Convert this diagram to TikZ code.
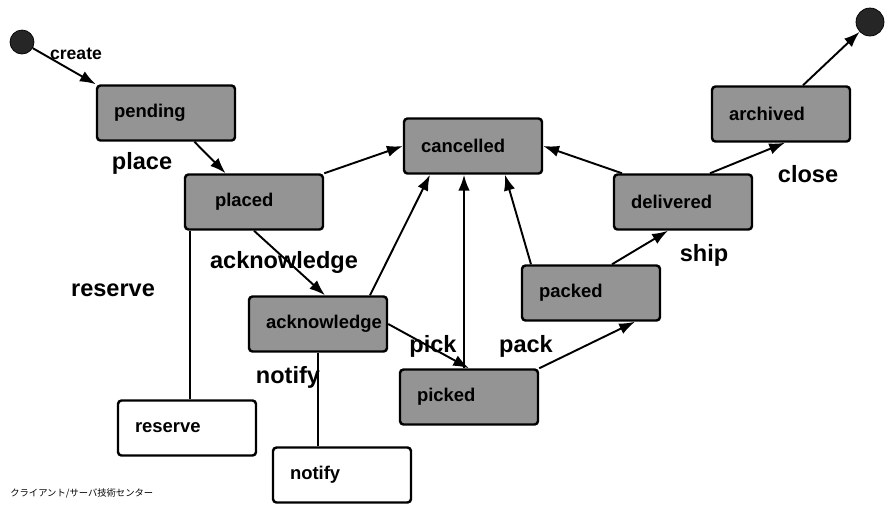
\documentclass[tikz,border=0pt]{standalone}
\usepackage{fontspec}
\setmainfont{Liberation Sans}
\newfontfamily\jpfont{Noto Sans CJK JP}
\usetikzlibrary{arrows.meta}
\pgfdeclarelayer{edgelayer}
\pgfdeclarelayer{nodelayer}
\pgfsetlayers{edgelayer,nodelayer,main}
\tikzstyle{none}=[inner sep=0pt]
\tikzstyle{pseudo}=[circle,fill=black!85,draw=black,inner sep=0pt]
\tikzstyle{phase}=[rectangle,rounded corners=2pt,fill=black!42,draw=black,line width=1.4pt,minimum height=1.1cm,text width=2.08cm,inner xsep=0.34cm,align=left,font=\bfseries\fontsize{10.5}{12}\selectfont]
\tikzstyle{task}=[phase,fill=white]
\tikzstyle{event}=[inner sep=0pt,font=\bfseries\fontsize{13.4}{16}\selectfont]
\tikzstyle{transition}=[-{Latex[length=9pt,width=6.5pt]},draw=black,line width=1.1pt]
\tikzstyle{link}=[draw=black,line width=1.1pt]

\begin{document}
\begin{tikzpicture}
	\useasboundingbox (0, 0) rectangle (17.76, -10.12);
	\begin{pgfonlayer}{nodelayer}
		\node [style=pseudo, minimum size=0.48cm] (0) at (0.44, -0.84) {};
		\node [style=phase] (1) at (3.32, -2.26) {pending};
		\node [style=phase, text width=1.56cm, inner xsep=0.6cm] (2) at (5.08, -4.04) {placed};
		\node [style=phase] (3) at (9.46, -2.92) {cancelled};
		\node [style=phase] (4) at (15.62, -2.28) {archived};
		\node [style=phase] (5) at (13.66, -4.04) {delivered};
		\node [style=phase] (6) at (11.82, -5.86) {packed};
		\node [style=phase] (7) at (6.36, -6.48) {acknowledge};
		\node [style=phase] (8) at (9.38, -7.94) {picked};
		\node [style=pseudo, minimum size=0.56cm] (9) at (17.4, -0.44) {};
		\node [style=task] (10) at (3.74, -8.56) {reserve};
		\node [style=task] (11) at (6.84, -9.5) {notify};
		% event names
		\node [style=event, font=\bfseries\fontsize{10}{12}\selectfont] (12) at (1.52, -1.08) {create};
		\node [style=event] (13) at (2.84, -3.26) {place};
		\node [style=event] (14) at (2.26, -5.8) {reserve};
		\node [style=event] (15) at (5.68, -5.24) {acknowledge};
		\node [style=event] (16) at (5.76, -7.54) {notify};
		\node [style=event] (17) at (8.66, -6.92) {pick};
		\node [style=event] (18) at (10.52, -6.92) {pack};
		\node [style=event] (19) at (14.08, -5.1) {ship};
		\node [style=event] (20) at (16.16, -3.48) {close};
		\node [style=none, anchor=west, font=\jpfont\fontsize{5.3}{6}\selectfont] (21) at (0.2, -9.86) {クライアント/サーバ技術センター};
	\end{pgfonlayer}
	\begin{pgfonlayer}{edgelayer}
		\draw [style=transition] (0) to (1.north west);
		\draw [style=transition] (1) to (2);
		\draw [style=transition] (2.north east) to (3.west);
		\draw [style=transition] (2.south) to ([xshift=0.14cm]7.north);
		\draw [style=link] ([xshift=-1.28cm]2.south) to ([xshift=-1.28cm]2.south |- 10.north);
		\draw [style=transition] ([xshift=1.04cm]7.north) to ([xshift=-0.86cm]3.south);
		\draw [style=link] (7.south) to (7.south |- 11.north);
		\draw [style=transition] (7.east) to (8.north);
		\draw [style=transition] ([xshift=-0.1cm]8.north) to ([xshift=-0.1cm]8.north |- 3.south);
		\draw [style=transition] (8.north east) to ([xshift=0.88cm]6.south);
		\draw [style=transition] ([xshift=-1.2cm]6.north) to ([xshift=0.64cm]3.south);
		\draw [style=transition] ([xshift=0.42cm]6.north) to ([xshift=-0.3cm]5.south);
		\draw [style=transition] ([xshift=-1.22cm]5.north) to (3.east);
		\draw [style=transition] ([xshift=0.54cm]5.north) to ([xshift=0.08cm]4.south);
		\draw [style=transition] ([xshift=0.44cm]4.north) to (9);
	\end{pgfonlayer}
\end{tikzpicture}
\end{document}
